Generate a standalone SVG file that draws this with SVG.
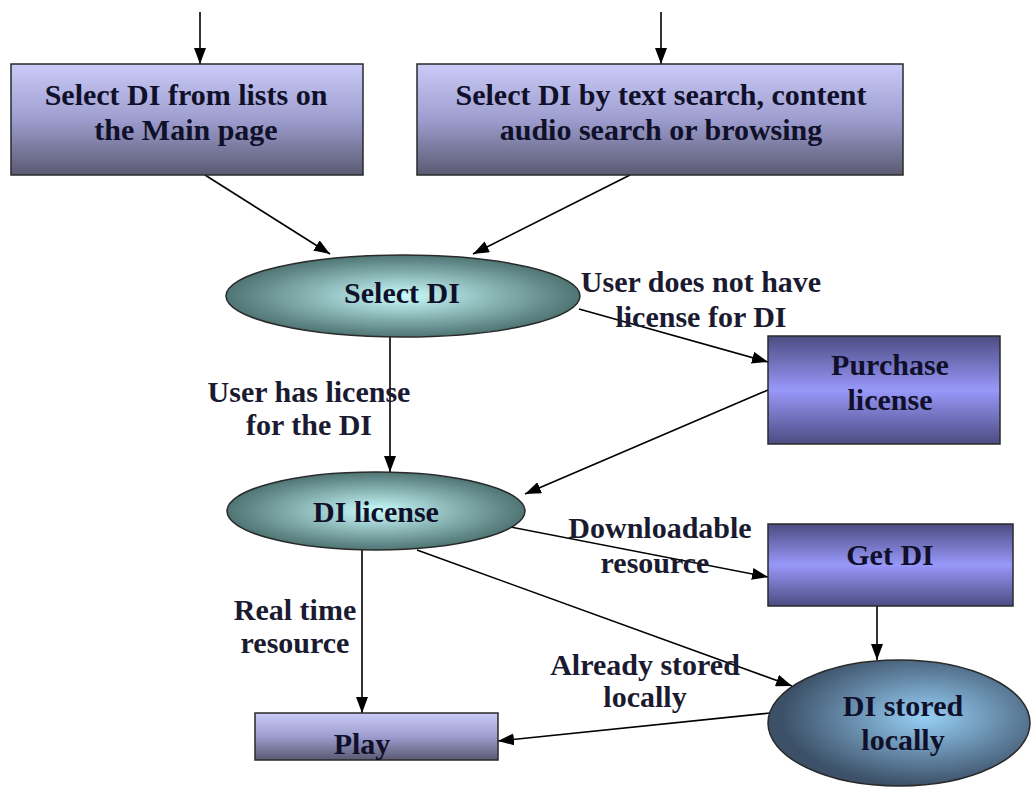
<svg xmlns="http://www.w3.org/2000/svg" width="1031" height="789" viewBox="0 0 1031 789">
  <defs>
    <linearGradient id="gLav" x1="0" y1="0" x2="0" y2="1">
      <stop offset="0" stop-color="#cbcbf8"/>
      <stop offset="0.5" stop-color="#9d9dcf"/>
      <stop offset="1" stop-color="#5a5a72"/>
    </linearGradient>
    <linearGradient id="gBlue" x1="0" y1="0" x2="0" y2="1">
      <stop offset="0" stop-color="#4c4c82"/>
      <stop offset="0.5" stop-color="#9898fa"/>
      <stop offset="1" stop-color="#4c4c82"/>
    </linearGradient>
    <radialGradient id="gTeal" cx="0.5" cy="0.5" r="0.5">
      <stop offset="0" stop-color="#cafcfc"/>
      <stop offset="1" stop-color="#4f7474"/>
    </radialGradient>
    <radialGradient id="gSteel" cx="0.6" cy="0.45" r="0.55">
      <stop offset="0" stop-color="#98d0f6"/>
      <stop offset="1" stop-color="#3c5068"/>
    </radialGradient>
    <marker id="arrow" viewBox="0 0 16 12" refX="16" refY="6" markerWidth="16" markerHeight="12" markerUnits="userSpaceOnUse" orient="auto">
      <path d="M0,0 L16,6 L0,12 z" fill="#000"/>
    </marker>
  </defs>
  <style>
    .box { stroke: #2a2a2a; stroke-width: 1.5; }
    .node-text { font-family: "Liberation Serif", "Times New Roman", serif; font-weight: bold; font-size: 30px; fill: #10102a; text-anchor: middle; }
    .label { font-family: "Liberation Serif", "Times New Roman", serif; font-weight: bold; font-size: 30px; fill: #1a1a30; text-anchor: middle; }
    .edge { stroke: #000; stroke-width: 1.6; fill: none; marker-end: url(#arrow); }
  </style>

  <rect width="1031" height="789" fill="#fff"/>

  <!-- connectors -->
  <g id="connectors">
    <line class="edge" x1="200" y1="12" x2="200" y2="64"/>
    <line class="edge" x1="661" y1="12" x2="661" y2="64"/>
    <line class="edge" x1="205" y1="175" x2="330" y2="254"/>
    <line class="edge" x1="630" y1="175" x2="473" y2="254"/>
    <line class="edge" x1="579" y1="309" x2="768" y2="362"/>
    <line class="edge" x1="390" y1="337" x2="390" y2="472"/>
    <line class="edge" x1="768" y1="390" x2="525" y2="494"/>
    <line class="edge" x1="500" y1="525" x2="768" y2="577"/>
    <line class="edge" x1="417" y1="550" x2="792" y2="686"/>
    <line class="edge" x1="877" y1="606" x2="877" y2="660"/>
    <line class="edge" x1="770" y1="713" x2="498" y2="741"/>
    <line class="edge" x1="362" y1="550" x2="362" y2="713"/>
  </g>

  <!-- edge labels -->
  <g id="edge-labels">
    <text class="label" x="701" y="292">User does not have</text>
    <text class="label" x="701" y="327">license for DI</text>
    <text class="label" x="309" y="402">User has license</text>
    <text class="label" x="309" y="435">for the DI</text>
    <text class="label" x="660" y="538">Downloadable</text>
    <text class="label" x="655" y="573">resource</text>
    <text class="label" x="295" y="620">Real time</text>
    <text class="label" x="295" y="653">resource</text>
    <text class="label" x="645" y="675">Already stored</text>
    <text class="label" x="645" y="707">locally</text>
  </g>

  <!-- nodes -->
  <g id="node-main-page">
    <rect class="box" x="11" y="64" width="352" height="111" fill="url(#gLav)"/>
    <text class="node-text" x="186" y="105">Select DI from lists on</text>
    <text class="node-text" x="186" y="140">the Main page</text>
  </g>
  <g id="node-search">
    <rect class="box" x="417" y="64" width="486" height="111" fill="url(#gLav)"/>
    <text class="node-text" x="661" y="105">Select DI by text search, content</text>
    <text class="node-text" x="661" y="140">audio search or browsing</text>
  </g>
  <g id="node-select-di">
    <ellipse class="box" cx="403" cy="296" rx="177" ry="41" fill="url(#gTeal)"/>
    <text class="node-text" x="402" y="303">Select DI</text>
  </g>
  <g id="node-purchase">
    <rect class="box" x="768" y="336" width="232" height="108" fill="url(#gBlue)"/>
    <text class="node-text" x="890" y="375">Purchase</text>
    <text class="node-text" x="890" y="410">license</text>
  </g>
  <g id="node-di-license">
    <ellipse class="box" cx="376" cy="511" rx="149" ry="39" fill="url(#gTeal)"/>
    <text class="node-text" x="376" y="522">DI license</text>
  </g>
  <g id="node-get-di">
    <rect class="box" x="768" y="524" width="245" height="82" fill="url(#gBlue)"/>
    <text class="node-text" x="890" y="565">Get DI</text>
  </g>
  <g id="node-stored">
    <ellipse class="box" cx="899" cy="723" rx="131" ry="63" fill="url(#gSteel)"/>
    <text class="node-text" x="903" y="716">DI stored</text>
    <text class="node-text" x="903" y="750">locally</text>
  </g>
  <g id="node-play">
    <rect class="box" x="255" y="713" width="243" height="47" fill="url(#gLav)"/>
    <text class="node-text" x="362" y="754">Play</text>
  </g>
</svg>
